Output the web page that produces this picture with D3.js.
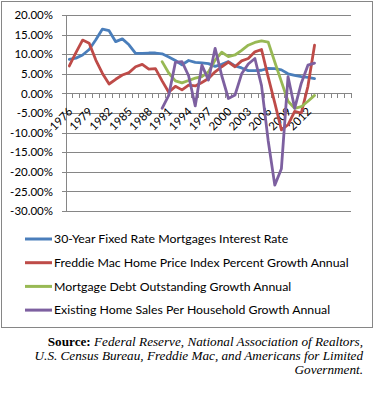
<!DOCTYPE html>
<html>
<head>
<meta charset="utf-8">
<script src="https://cdn.jsdelivr.net/npm/d3@7"></script>
<style>
  body { margin: 0; background: #fff; }
  svg { display: block; }
  .axis text { font-family: Lato, 'Open Sans', sans-serif; font-size: 11.5px; fill: #000; }
  .legend text { font-family: Lato, 'Open Sans', sans-serif; font-size: 12.3px; fill: #000; }
  .source { font-family: 'Liberation Serif', 'Times New Roman', serif; font-size: 13.2px; fill: #000; }
</style>
</head>
<body>
<div id="chart"></div>
<script>
// Data
// category axis runs past the last data year (empty categories on the right)
const axisYears = [1976, 1977, 1978, 1979, 1980, 1981, 1982, 1983, 1984, 1985, 1986, 1987, 1988,
  1989, 1990, 1991, 1992, 1993, 1994, 1995, 1996, 1997, 1998, 1999, 2000, 2001, 2002, 2003, 2004,
  2005, 2006, 2007, 2008, 2009, 2010, 2011, 2012, 2013, 2014, 2015, 2016, 2017, 2018];
const years = [1976, 1977, 1978, 1979, 1980, 1981, 1982, 1983, 1984, 1985, 1986, 1987, 1988,
  1989, 1990, 1991, 1992, 1993, 1994, 1995, 1996, 1997, 1998, 1999, 2000, 2001, 2002, 2003, 2004,
  2005, 2006, 2007, 2008, 2009, 2010, 2011, 2012, 2013];
const labelYears = [1976, 1979, 1982, 1985, 1988, 1991, 1994, 1997, 2000, 2003, 2006, 2009, 2012];
const yTicks = [20, 15, 10, 5, 0, -5, -10, -15, -20, -25, -30];

const seriesNames = [
  '30-Year Fixed Rate Mortgages Interest Rate',
  'Freddie Mac Home Price Index Percent Growth Annual',
  'Mortgage Debt Outstanding Growth Annual',
  'Existing Home Sales Per Household Growth Annual'
];
const seriesColors = ['#4A7EBB', '#BE4B48', '#98B954', '#7D60A0'];

const mortgageRate = [8.7, 9.0, 9.8, 11.2, 13.7, 16.4, 16.0, 13.2, 13.9, 12.4, 10.2, 10.2, 10.3,
  10.3, 10.1, 9.3, 8.4, 7.3, 8.4, 7.9, 7.8, 7.6, 6.9, 7.4, 8.1, 7.0, 6.5, 5.8, 5.8,
  5.9, 6.4, 6.3, 6.0, 5.0, 4.6, 4.3, 4.1, 3.8];
const homePriceGrowth = [7.0, 10.4, 13.6, 12.8, 8.5, 5.1, 2.4, 3.6, 4.7, 5.3, 6.8, 7.4, 6.2,
  6.3, 3.2, 0.3, 1.8, 0.9, 2.1, 1.9, 2.8, 3.8, 5.5, 6.8, 8.0, 6.8, 8.3, 8.9, 10.6,
  11.2, 4.2, -2.4, -9.3, -8.0, -4.6, -5.0, 1.8, 12.3];
const debtGrowth = [null, null, null, null, null, null, null, null, null, null, null, null, null,
  null, 8.1, 5.2, 3.2, 2.7, 3.3, 3.9, 4.3, 5.5, 8.5, 10.5, 9.4, 9.8, 11.0, 12.3, 13.0,
  13.4, 13.1, 8.0, 3.0, -2.0, -3.8, -3.4, -2.0, -0.5];
const homeSalesGrowth = [null, null, null, null, null, null, null, null, null, null, null, null, null,
  null, -3.8, -0.5, 7.9, 8.1, 4.5, -3.2, 7.2, 3.4, 11.5, 4.5, -1.3, -0.4, 5.0, 7.5, 8.9,
  2.0, -12.0, -23.4, -19.2, 4.3, -3.8, 2.6, 7.2, 7.7];

const allSeries = [mortgageRate, homePriceGrowth, debtGrowth, homeSalesGrowth];

const W = 375;
const H = 414;
const plot = { l: 66, r: 351, t: 15, b: 211 };
const grey = '#868686';

const svg = d3
  .select('#chart')
  .append('svg')
  .attr('width', W)
  .attr('height', H);

// chart border
svg
  .append('rect')
  .attr('x', 1.5)
  .attr('y', 1.5)
  .attr('width', 371)
  .attr('height', 326)
  .attr('fill', 'none')
  .attr('stroke', grey);

const x = d3.scaleBand(axisYears, [plot.l, plot.r]);
const y = d3.scaleLinear([-30, 20], [plot.b, plot.t]);
const cx = (yr) => x(yr) + x.bandwidth() / 2;

// gridlines
svg
  .append('g')
  .attr('transform', `translate(${plot.l}, 0)`)
  .call(d3.axisLeft(y).tickValues(yTicks).tickSize(-(plot.r - plot.l)).tickFormat(''))
  .call((g) => g.select('.domain').remove())
  .selectAll('line')
  .attr('stroke', grey)
  .attr('shape-rendering', 'crispEdges');

// y axis
svg
  .append('g')
  .attr('class', 'axis')
  .attr('transform', `translate(${plot.l}, 0)`)
  .call(d3.axisLeft(y).tickValues(yTicks).tickSize(4).tickPadding(9).tickSizeOuter(0)
    .tickFormat((d) => d.toFixed(2) + '%'))
  .call((g) => g.select('.domain').attr('stroke', grey).attr('shape-rendering', 'crispEdges'))
  .call((g) => g.selectAll('line').attr('stroke', grey).attr('shape-rendering', 'crispEdges'));

// x axis at 0%
const y0 = y(0);
const xAxis = svg.append('g').attr('class', 'axis');
xAxis
  .append('line')
  .attr('x1', plot.l)
  .attr('x2', plot.r)
  .attr('y1', y0)
  .attr('y2', y0)
  .attr('stroke', grey)
  .attr('shape-rendering', 'crispEdges');
xAxis
  .selectAll('.xtick')
  .data(axisYears.slice(1).concat(['end']))
  .join('line')
  .attr('class', 'xtick')
  .attr('x1', (d) => (d === 'end' ? plot.r : x(d)))
  .attr('x2', (d) => (d === 'end' ? plot.r : x(d)))
  .attr('y1', y0)
  .attr('y2', y0 + 5)
  .attr('stroke', grey)
  .attr('shape-rendering', 'crispEdges');
xAxis
  .selectAll('.xlabel')
  .data(labelYears)
  .join('text')
  .attr('class', 'xlabel')
  .attr('text-anchor', 'end')
  .attr('transform', (d) => `translate(${cx(d) + 4}, ${y0 + 19}) rotate(-45)`)
  .text((d) => d);

// lines
const line = d3
  .line()
  .defined((d) => d != null)
  .x((d, i) => cx(years[i]))
  .y((d) => y(d));

svg
  .append('g')
  .selectAll('path')
  .data(allSeries)
  .join('path')
  .attr('d', line)
  .attr('fill', 'none')
  .attr('stroke', (d, i) => seriesColors[i])
  .attr('stroke-width', 2.8)
  .attr('stroke-linejoin', 'round')
  .attr('stroke-linecap', 'round');

// legend
const legend = svg
  .append('g')
  .attr('class', 'legend')
  .selectAll('g')
  .data(seriesNames)
  .join('g')
  .attr('transform', (d, i) => `translate(25, ${239 + i * 23.7})`);

legend
  .append('line')
  .attr('x1', 0)
  .attr('x2', 27)
  .attr('stroke', (d, i) => seriesColors[i])
  .attr('stroke-width', 3);

legend
  .append('text')
  .attr('x', 29)
  .attr('dy', '0.35em')
  .text((d) => d);

// source note
const sourceLines = [
  ['Source:', ' Federal Reserve, National Association of Realtors,'],
  ['', 'U.S. Census Bureau, Freddie Mac, and Americans for Limited'],
  ['', 'Government.']
];
const src = svg
  .append('text')
  .attr('class', 'source')
  .attr('text-anchor', 'end');
sourceLines.forEach((l, i) => {
  const t = src.append('tspan').attr('x', 363).attr('y', 346 + i * 14);
  if (l[0]) t.append('tspan').attr('font-weight', 'bold').text(l[0]);
  t.append('tspan').attr('font-style', 'italic').text(l[1]);
});
</script>
</body>
</html>
